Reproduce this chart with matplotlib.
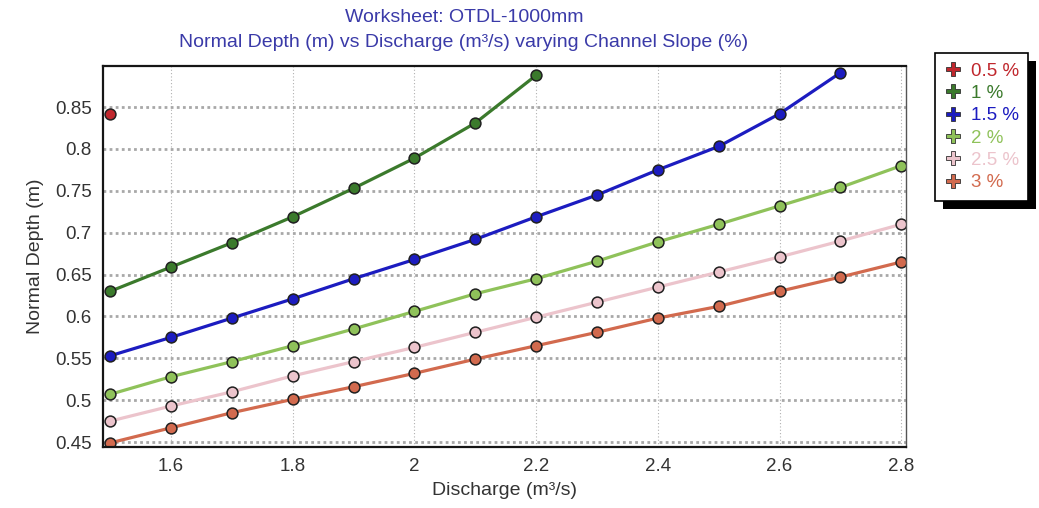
import matplotlib
matplotlib.use("Agg")
import matplotlib.pyplot as plt
from matplotlib.lines import Line2D
from matplotlib.patches import Rectangle

plt.rcParams['font.family'] = ['Liberation Sans', 'DejaVu Sans']

# discharge values (m3/s)
discharge = [1.5, 1.6, 1.7, 1.8, 1.9, 2.0, 2.1, 2.2, 2.3, 2.4, 2.5, 2.6, 2.7, 2.8]

slope_labels = ["0.5 %", "1 %", "1.5 %", "2 %", "2.5 %", "3 %"]
slope_colors = ["#c0272d", "#3b7a2c", "#1c1cc0", "#8fc25a", "#ecc4cc", "#d26a4e"]

depth_05 = [0.842]
depth_1 = [0.630, 0.659, 0.688, 0.719, 0.753, 0.789, 0.831, 0.888]
depth_15 = [0.553, 0.575, 0.598, 0.621, 0.645, 0.668, 0.692, 0.719,
            0.745, 0.775, 0.803, 0.842, 0.891]
depth_2 = [0.507, 0.528, 0.546, 0.565, 0.585, 0.606, 0.627, 0.645,
           0.666, 0.689, 0.710, 0.732, 0.754, 0.780]
depth_25 = [0.475, 0.493, 0.510, 0.529, 0.546, 0.563, 0.581, 0.599,
            0.617, 0.635, 0.653, 0.671, 0.690, 0.710]
depth_3 = [0.449, 0.467, 0.485, 0.501, 0.516, 0.532, 0.549, 0.565,
           0.581, 0.598, 0.612, 0.630, 0.647, 0.665]

all_depths = [depth_05, depth_1, depth_15, depth_2, depth_25, depth_3]

xticks = [1.6, 1.8, 2.0, 2.2, 2.4, 2.6, 2.8]
xtick_labels = ["1.6", "1.8", "2", "2.2", "2.4", "2.6", "2.8"]
yticks = [0.45, 0.5, 0.55, 0.6, 0.65, 0.7, 0.75, 0.8, 0.85]
ytick_labels = ["0.45", "0.5", "0.55", "0.6", "0.65", "0.7", "0.75", "0.8", "0.85"]

fig = plt.figure(figsize=(10.39, 5.08), dpi=100)
ax = fig.add_axes([0.0991, 0.120, 0.7730, 0.750])

for depths, col in zip(all_depths, slope_colors):
    ax.plot(discharge[:len(depths)], depths, color=col, lw=2.3, marker='o',
            markersize=7.8, markerfacecolor=col, markeredgecolor='#202020',
            markeredgewidth=1.1)

ax.set_xlim(1.488, 2.808)
ax.set_ylim(0.444, 0.899)
ax.set_xticks(xticks)
ax.set_xticklabels(xtick_labels)
ax.set_yticks(yticks)
ax.set_yticklabels(ytick_labels)
ax.tick_params(length=0, labelsize=13.5, colors='#333333', pad=8)

# grid: heavy dotted horizontals, fine dotted verticals
ax.grid(axis='y', color='#a8a8a8', lw=2.0, ls=(0, (1, 1.2)))
ax.grid(axis='x', color='#b0b0b0', lw=0.8, ls=(0, (1, 2)))
ax.set_axisbelow(True)

for side in ['left', 'bottom', 'top']:
    ax.spines[side].set_linewidth(1.6)
    ax.spines[side].set_color('#151515')
ax.spines['right'].set_linewidth(1.0)
ax.spines['right'].set_color('#555555')

ax.set_xlabel("Discharge (m³/s)", fontsize=14, color='#333333', labelpad=5)
ax.set_ylabel("Normal Depth (m)", fontsize=14, color='#333333', labelpad=8)

fig.text(0.447, 0.965, "Worksheet: OTDL-1000mm", ha='center', va='center',
         fontsize=14, color='#3a3aa8')
fig.text(0.446, 0.917, "Normal Depth (m) vs Discharge (m³/s) varying Channel Slope (%)",
         ha='center', va='center', fontsize=14, color='#3a3aa8')

handles = [Line2D([], [], ls='none', marker='P', markersize=10, color=c,
                  markeredgecolor='#303030', markeredgewidth=0.6)
           for c in slope_colors]
leg = fig.legend(handles, slope_labels, loc='upper left',
                 bbox_to_anchor=(935 / 1039, 1 - 53 / 508), borderaxespad=0,
                 fontsize=13.5, labelcolor=slope_colors, fancybox=False,
                 frameon=True, edgecolor='black', facecolor='white',
                 framealpha=1.0, handlelength=0.9, handletextpad=0.5,
                 labelspacing=0.28, borderpad=0.5)
leg.get_frame().set_linewidth(1.2)
leg.set_zorder(5)

fig.canvas.draw()
bb = leg.get_window_extent().transformed(fig.transFigure.inverted())
off_x, off_y = 8 / 1039, 8 / 508
fig.add_artist(Rectangle((bb.x0 + off_x, bb.y0 - off_y), bb.width, bb.height,
                         transform=fig.transFigure, facecolor='black',
                         edgecolor='none', zorder=1))

fig.savefig("out.png", dpi=100, facecolor='white')
